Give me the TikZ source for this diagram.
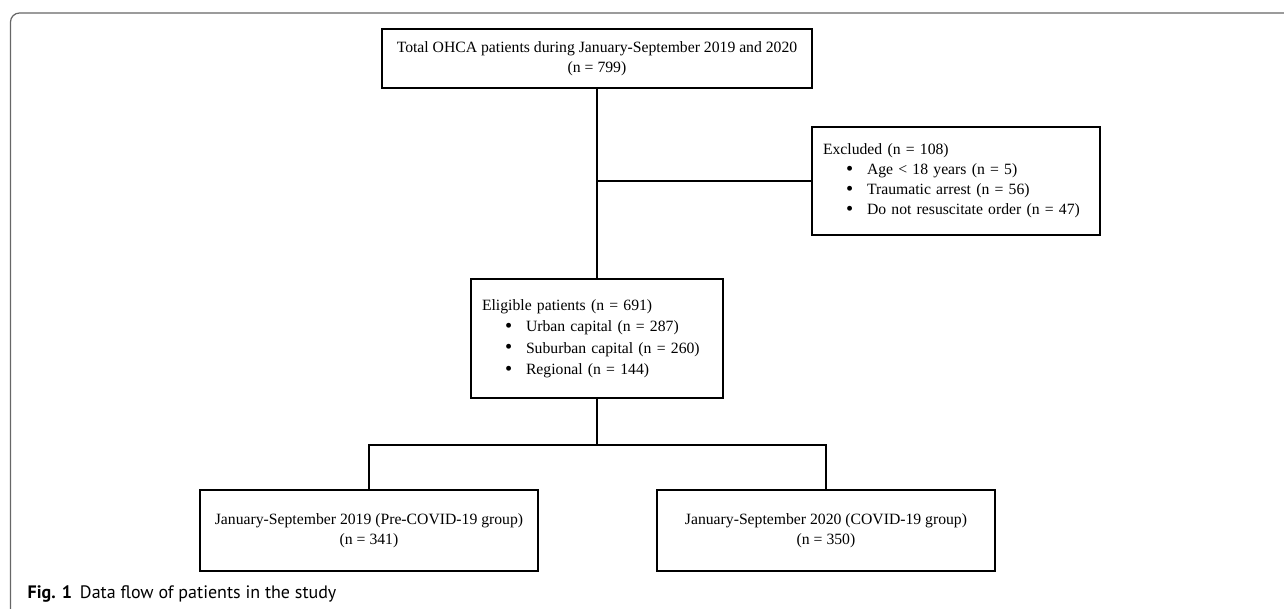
\documentclass[tikz,border=0pt]{standalone}
\usepackage{fontspec}
\setmainfont{Liberation Serif}
\newfontfamily\capfont{PT Sans}
\newcommand{\bul}{\hspace*{23pt}\makebox[21pt][l]{\raisebox{-0.5pt}{\scalebox{1.3}{\textbullet}}}}

\begin{document}
\begin{tikzpicture}
  [x=1pt,y=-1pt,line width=1.3pt,
   every node/.style={draw,line width=1.3pt,inner sep=0pt,
     font=\fontsize{15.7}{20}\selectfont},
   listbox/.style={align=left,inner xsep=11pt,text width=#1}]
  \useasboundingbox (0,0) rectangle (1284,609);
  % outer frame
  \draw[line width=1.2pt,black!60,rounded corners=9pt] (1284,13) -- (10.5,13) -- (10.5,609);
  \node[align=center,minimum width=430,minimum height=59] (ntotal) at (597,58.5)
    {Total OHCA patients during January-September 2019 and 2020\\(n = 799)};
  \node[listbox=266pt,minimum height=108] (nexcl) at (956,181)
    {Excluded (n = 108)\\
     \bul Age < 18 years (n = 5)\\
     \bul Traumatic arrest (n = 56)\\
     \bul Do not resuscitate order (n = 47)};
  \node[listbox=230pt,minimum height=119,font=\fontsize{15.7}{21.5}\selectfont] (nelig) at (597,338.5)
    {Eligible patients (n = 691)\\
     \bul Urban capital (n = 287)\\
     \bul Suburban capital (n = 260)\\
     \bul Regional (n = 144)};
  \node[align=center,minimum width=338,minimum height=81] (npre) at (369,530.5)
    {January-September 2019 (Pre-COVID-19 group)\\(n = 341)};
  \node[align=center,minimum width=338,minimum height=81] (ncovid) at (826,530.5)
    {January-September 2020 (COVID-19 group)\\(n = 350)};
  \coordinate (csplit) at (597,445);
  \draw (ntotal) -- (nelig);
  \draw (ntotal.south |- nexcl.west) -- (nexcl.west);
  \draw (nelig) -- (csplit);
  \draw (npre.north) |- (csplit) -| (ncovid.north);
  % caption
  \node[draw=none,anchor=base west] (ncap) at (27,598)
    {\capfont\fontsize{18}{20}\selectfont\textbf{Fig. 1}\hspace{8pt}Data flow of patients in the study};
\end{tikzpicture}
\end{document}
